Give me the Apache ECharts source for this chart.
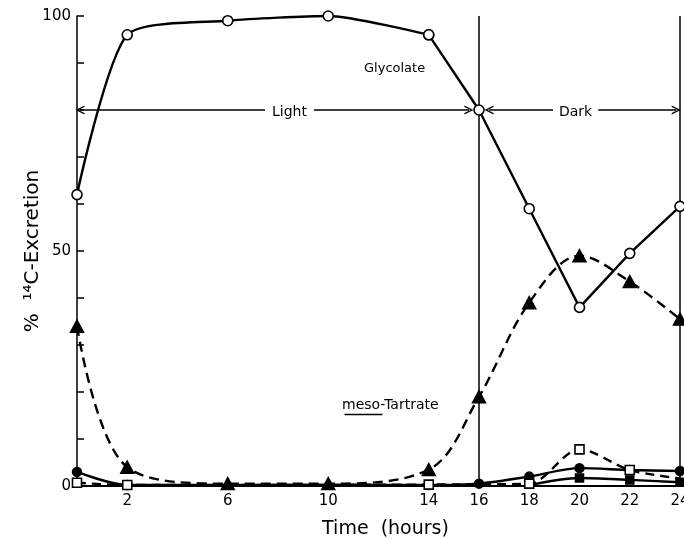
<!DOCTYPE html>
<html>
<head>
<meta charset="utf-8">
<script src="https://cdn.jsdelivr.net/npm/echarts@6/dist/echarts.min.js"></script>
<style>
  html, body { margin: 0; padding: 0; background: #fff; }
  #chart { width: 684px; height: 539px; }
</style>
</head>
<body>
<div id="chart"></div>
<script>
// Time points (hours) and % 14C excretion per product
const hours = [0, 2, 6, 10, 14, 16, 18, 20, 22, 24];
const glycolate = [62, 96, 99, 100, 96, 80, 59, 38, 49.5, 59.5];
const mesoTartrate = [34, 4, 0.5, 0.5, 3.5, 19, 39, 49, 43.5, 35.5];

const filledCircleHours = [0, 2, 14, 16, 18, 20, 22, 24];
const filledCircleValues = [3, 0.2, 0.2, 0.5, 2, 3.8, 3.4, 3.2];

const filledSquareHours = [18, 20, 22, 24];
const filledSquareValues = [0.2, 1.7, 1.3, 0.8];

const openSquareHours = [0, 2, 14, 18, 20, 22, 24];
const openSquareValues = [0.7, 0.2, 0.3, 0.5, 7.8, 3.4, 1.6];

// Light / dark period boundaries and arrow level
const lightPeriod = [0, 16];
const darkPeriod = [16, 24];
const periodNames = ['Light', 'Dark'];
const arrowLevel = 80;

// axis labels shown
const xLabels = [2, 6, 10, 14, 16, 18, 20, 22, 24];
const yLabels = [0, 50, 100];

const pairs = (xs, ys) => xs.map((x, i) => [x, ys[i]]);
const FONT = 'DejaVu Sans';
const chevron = 'path://M0,10 L5,0 L10,10 L8.4,10 L5,3.2 L1.6,10 Z';

const chart = echarts.init(document.getElementById('chart'));

const lineBase = {
  type: 'line',
  showSymbol: true,
  symbolKeepAspect: true,
  itemStyle: { color: '#000', borderColor: '#000', borderWidth: 1.5 },
  lineStyle: { color: '#000', width: 2.4 },
  animation: false,
  z: 3
};

const openMarker = { color: '#fff', borderColor: '#000', borderWidth: 1.6 };

chart.setOption({
  backgroundColor: '#fff',
  animation: false,
  grid: { left: 77, right: 4, top: 16, bottom: 53, outerBoundsMode: 'none', containLabel: false },
  xAxis: {
    type: 'value',
    min: 0, max: 24, interval: 2,
    name: 'Time  (hours)',
    nameLocation: 'middle',
    nameGap: 34,
    nameMoveOverlap: false,
    nameTextStyle: { fontFamily: FONT, fontSize: 19, color: '#000', padding: [0, 0, 0, 14] },
    axisLine: { lineStyle: { color: '#000', width: 2 } },
    axisTick: { show: false },
    splitLine: { show: false },
    axisLabel: {
      fontFamily: FONT, fontSize: 15, color: '#000', margin: 8,
      showMaxLabel: true,
      formatter: v => xLabels.includes(v) ? String(v) : ''
    }
  },
  yAxis: {
    type: 'value',
    min: 0, max: 100, interval: 10,
    name: '%  ¹⁴C-Excretion',
    nameLocation: 'middle',
    nameGap: 34,
    nameMoveOverlap: false,
    nameTextStyle: { fontFamily: FONT, fontSize: 20, color: '#000' },
    axisLine: { show: true, lineStyle: { color: '#000', width: 1.5 } },
    axisTick: { show: true, inside: true, length: 7, lineStyle: { color: '#000', width: 1.5 } },
    splitLine: { show: false },
    axisLabel: {
      fontFamily: FONT, fontSize: 15, color: '#000', margin: 6,
      formatter: v => yLabels.includes(v) ? String(v) : ''
    }
  },
  series: [
    // filled squares (solid line)
    Object.assign({}, lineBase, {
      name: 'filled squares',
      data: pairs(filledSquareHours, filledSquareValues),
      smooth: 0.3,
      symbol: 'rect',
      symbolSize: (v) => v[0] === 18 ? 0 : 8
    }),
    // filled circles (solid line)
    Object.assign({}, lineBase, {
      name: 'filled circles',
      data: pairs(filledCircleHours, filledCircleValues),
      smooth: 0.3,
      symbol: 'circle',
      symbolSize: 9
    }),
    // open squares (dashed line)
    Object.assign({}, lineBase, {
      name: 'open squares',
      data: pairs(openSquareHours, openSquareValues),
      smooth: 0.3,
      symbol: 'rect',
      symbolSize: (v) => v[0] === 24 ? 0 : 9,
      itemStyle: openMarker,
      lineStyle: { color: '#000', width: 2.4, type: [9, 6] },
      z: 4
    }),
    // meso-tartrate (filled triangles, dashed)
    Object.assign({}, lineBase, {
      name: 'meso-Tartrate',
      data: pairs(hours, mesoTartrate),
      smooth: 0.35,
      symbol: 'triangle',
      symbolSize: [13, 12],
      lineStyle: { color: '#000', width: 2.4, type: [10, 6] },
      z: 5
    }),
    // glycolate, light period (smooth curve)
    Object.assign({}, lineBase, {
      name: 'Glycolate',
      data: pairs(hours.slice(0, 5), glycolate.slice(0, 5)),
      smooth: 0.22,
      symbol: 'circle',
      symbolSize: 10,
      itemStyle: openMarker,
      z: 6
    }),
    // glycolate, remainder (straight segments)
    Object.assign({}, lineBase, {
      name: 'Glycolate',
      data: pairs(hours.slice(4), glycolate.slice(4)),
      smooth: false,
      symbol: 'circle',
      symbolSize: 10,
      itemStyle: openMarker,
      z: 6,
      markLine: {
        silent: true,
        symbol: 'none',
        animation: false,
        label: { show: false },
        lineStyle: { color: '#000', width: 1.5, type: 'solid' },
        data: [{ xAxis: darkPeriod[0] }, { xAxis: darkPeriod[1] }]
      }
    }),
    // light / dark arrows
    {
      type: 'line',
      data: [],
      animation: false,
      markLine: {
        silent: true,
        animation: false,
        symbol: [chevron, chevron],
        symbolSize: [9, 9],
        lineStyle: { color: '#000', width: 1.5, type: 'solid' },
        label: { show: false },
        data: [
          [
            { coord: [lightPeriod[0] + 0.12, arrowLevel] },
            { coord: [lightPeriod[1] - 0.4, arrowLevel] }
          ],
          [
            { coord: [darkPeriod[0] + 0.4, arrowLevel] },
            { coord: [darkPeriod[1] - 0.15, arrowLevel] }
          ]
        ]
      }
    }
  ],
  graphic: [
    {
      type: 'text', left: 265, top: 103, z: 50,
      style: {
        text: periodNames[0], fontFamily: FONT, fontSize: 14, fill: '#000',
        backgroundColor: '#fff', padding: [2, 7]
      }
    },
    {
      type: 'text', left: 553, top: 103, z: 50,
      style: {
        text: periodNames[1], fontFamily: FONT, fontSize: 14, fill: '#000',
        backgroundColor: '#fff', padding: [2, 6]
      }
    },
    {
      type: 'text', left: 364, top: 62,
      style: { text: 'Glycolate', fontFamily: FONT, fontSize: 13, fill: '#000' }
    },
    {
      type: 'text', left: 342, top: 398,
      style: { text: 'meso-Tartrate', fontFamily: FONT, fontSize: 14, fill: '#000' }
    },
    {
      type: 'line', left: 342, top: 412,
      shape: { x1: 0, y1: 0, x2: 38, y2: 0 },
      style: { stroke: '#000', lineWidth: 1.5 }
    }
  ]
});
</script>
</body>
</html>
